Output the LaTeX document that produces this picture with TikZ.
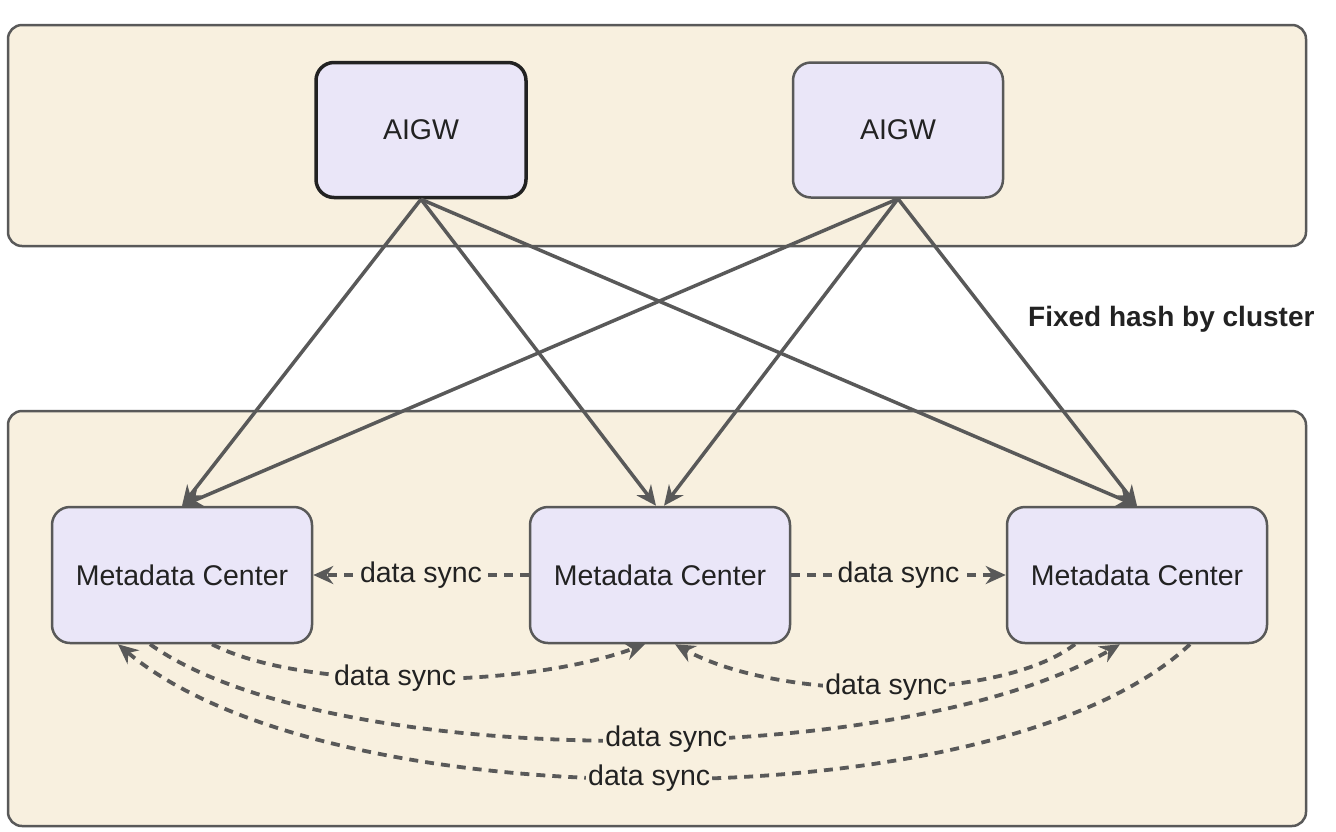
\documentclass[tikz,border=0pt]{standalone}
\usepackage{fontspec}
\setmainfont{Liberation Sans}
\usetikzlibrary{arrows.meta}
\definecolor{panelbg}{HTML}{F8F0DF}
\definecolor{boxbg}{HTML}{EAE6F8}
\definecolor{edgegray}{HTML}{595959}
\definecolor{inkdark}{HTML}{222222}
\begin{document}
\begin{tikzpicture}[x=1pt,y=-1pt,>={Stealth[length=20pt,width=18pt]},
		panel/.style={draw=edgegray, fill=panelbg, line width=2.5pt, rounded corners=14pt},
		svc/.style={draw=edgegray, fill=boxbg, line width=2.5pt, rounded corners=18pt, text=inkdark, font=\fontsize{28.5}{33}\selectfont},
		link/.style={->, draw=edgegray, line width=3.5pt},
		sync/.style={->, draw=edgegray, line width=3.8pt, dash pattern=on 9pt off 7pt},
		synclabel/.style={fill=panelbg, inner sep=2pt, text=inkdark, font=\fontsize{28.5}{33}\selectfont}]
		\useasboundingbox (0,0) rectangle (1336,831);
		
		\draw[panel] (8,25) rectangle (1306,246);
		\draw[panel] (8,411) rectangle (1306,826);
		
		\node[svc, minimum width=210pt, minimum height=135pt, draw=inkdark, line width=3.5pt] (aigwA) at (421,130) {AIGW};
		\node[svc, minimum width=210pt, minimum height=135pt] (aigwB) at (898,130) {AIGW};
		
		\node[svc, minimum width=260pt, minimum height=136pt] (mcA) at (182,575) {Metadata Center};
		\node[svc, minimum width=260pt, minimum height=136pt] (mcB) at (660,575) {Metadata Center};
		\node[svc, minimum width=260pt, minimum height=136pt] (mcC) at (1137,575) {Metadata Center};
		
		\node[anchor=east, text=inkdark, font=\bfseries\fontsize{28}{33}\selectfont] (hashnote) at (1318,319) {Fixed hash by cluster};
		
		\draw[link] (aigwA.south) -- (mcA.north);
		\draw[link] (aigwA.south) -- ([xshift=-4pt]mcB.north);
		\draw[link] (aigwA.south) -- (mcC.north);
		\draw[link] (aigwB.south) -- (mcA.north);
		\draw[link] (aigwB.south) -- ([xshift=4pt]mcB.north);
		\draw[link] (aigwB.south) -- (mcC.north);
		
		\draw[sync] (mcB) -- (mcA) node[midway, synclabel] {data sync};
		\draw[sync] (mcB) -- (mcC) node[midway, synclabel] {data sync};
		
		\draw[sync] ([xshift=30pt]mcA.south) .. controls (300,690) and (520,690) .. ([xshift=-15pt]mcB.south) node[pos=0.46, synclabel] {data sync};
		\draw[sync] ([xshift=-62pt]mcC.south) .. controls (1000,702) and (780,702) .. ([xshift=15pt]mcB.south) node[pos=0.5, synclabel] {data sync};
		\draw[sync] ([xshift=-32pt]mcA.south) .. controls (330,772) and (900,772) .. ([xshift=-17pt]mcC.south) node[pos=0.54, synclabel] {data sync};
		\draw[sync] ([xshift=53pt]mcC.south) .. controls (1000,823) and (330,823) .. ([xshift=-64pt]mcA.south) node[pos=0.51, synclabel] {data sync};
	\end{tikzpicture}
\end{document}
